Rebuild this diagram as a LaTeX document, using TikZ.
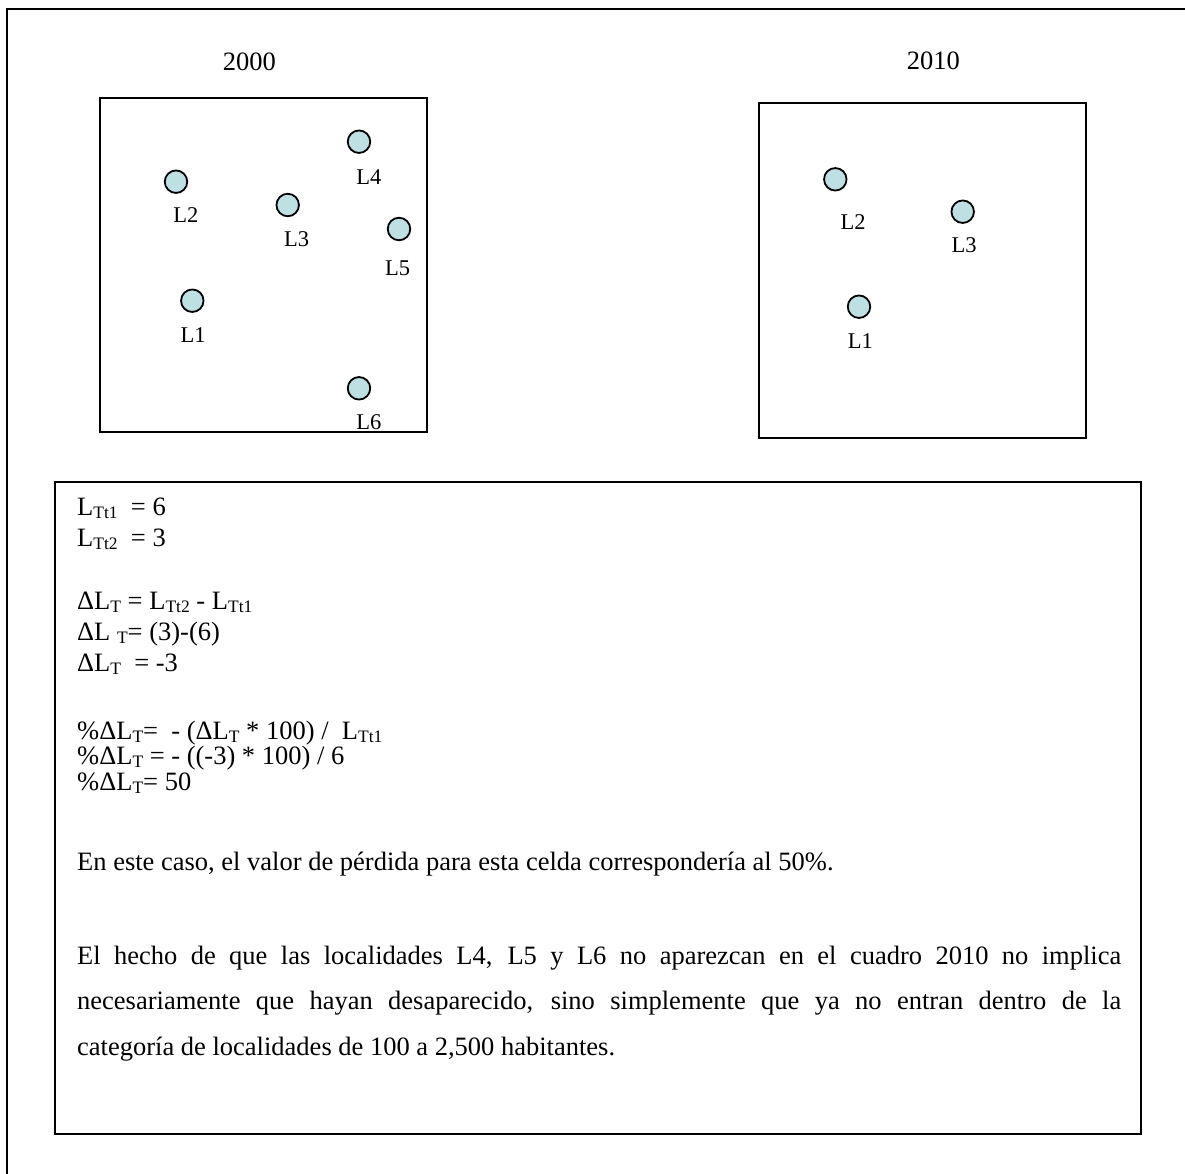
\documentclass[tikz,border=0pt]{standalone}
\usepackage{fontspec}
\setmainfont{Liberation Serif}
\definecolor{dotfill}{RGB}{190,224,226}
\newcommand\sbx[1]{\raisebox{-3pt}{\fontsize{17.5}{17.5}\selectfont #1}}
\tikzset{
  frame/.style={draw=black, line width=2pt},
  loc/.style={circle, draw=black, line width=1.8pt, fill=dotfill, minimum size=22.5pt, inner sep=0pt},
  lbl/.style={inner sep=0pt, font=\fontsize{22.5}{27}\selectfont},
  yr/.style={inner sep=0pt, font=\fontsize{26.5}{30}\selectfont},
  txt/.style={inner sep=0pt, anchor=base west, font=\fontsize{26.5}{31}\selectfont},
}
\begin{document}
\begin{tikzpicture}[x=1pt,y=-1pt]
\useasboundingbox (0,0) rectangle (1185,1173);
\fill[white] (0,0) rectangle (1185,1173);
% outer frame (runs off the right and bottom edges)
\draw[frame] (1186,9.3) -- (7.3,9.3) -- (7.3,1174);
% boxes
\draw[frame] (100,98) rectangle (427,432);
\draw[frame] (759.3,103.3) rectangle (1086,437.7);
\draw[frame] (55,482) rectangle (1141,1134);
% years
\node[yr] (y2000) at (249.3,61.7) {2000};
\node[yr] (y2010) at (933.3,60.8) {2010};
% 2000 cell
\node[loc] (a2) at (176,181.7) {};
\node[loc] (a3) at (287.7,205) {};
\node[loc] (a4) at (359,141.7) {};
\node[loc] (a5) at (399,229) {};
\node[loc] (a1) at (192.3,300.7) {};
\node[loc] (a6) at (359,388.3) {};
\node[lbl] (la2) at (185.8,215.5) {L2};
\node[lbl] (la3) at (296.7,239.2) {L3};
\node[lbl] (la4) at (368.8,176.7) {L4};
\node[lbl] (la5) at (397.5,268.3) {L5};
\node[lbl] (la1) at (193,335.5) {L1};
\node[lbl] (la6) at (368.8,422.5) {L6};
% 2010 cell
\node[loc] (b2) at (835.3,179.3) {};
\node[loc] (b3) at (962.7,211.7) {};
\node[loc] (b1) at (859,306.7) {};
\node[lbl] (lb2) at (853,222) {L2};
\node[lbl] (lb3) at (964.2,245.3) {L3};
\node[lbl] (lb1) at (860.3,341.3) {L1};
% formulas
\node[txt] (f1) at (77,515.7) {L\sbx{Tt1}\ \ = 6};
\node[txt] (f2) at (77,546.7) {L\sbx{Tt2}\ \ = 3};
\node[txt] (f3) at (77,609) {ΔL\sbx{T} = L\sbx{Tt2} - L\sbx{Tt1}};
\node[txt] (f4) at (77,640) {ΔL \sbx{T}= (3)-(6)};
\node[txt] (f5) at (77,671) {ΔL\sbx{T}\ \ = -3};
\node[txt] (f6) at (77,739) {\%ΔL\sbx{T}=\ \ - (ΔL\sbx{T} * 100) /\ \ L\sbx{Tt1}};
\node[txt] (f7) at (77,764.5) {\%ΔL\sbx{T} = - ((-3) * 100) / 6};
\node[txt] (f8) at (77,790) {\%ΔL\sbx{T}= 50};
% text
\node[txt] (p1) at (77,870) {En este caso, el valor de pérdida para esta celda correspondería al 50\%.};
\node[txt] (p2) at (77,964) {\parbox[t]{1044pt}{\fontsize{26.5}{45.5}\selectfont\parindent=0pt\tolerance=10000\hyphenpenalty=10000
El hecho de que las localidades L4, L5 y L6 no aparezcan en el cuadro 2010 no implica\linebreak
necesariamente que hayan desaparecido, sino simplemente que ya no entran dentro de la\linebreak
categoría de localidades de 100 a 2,500 habitantes.}};
\end{tikzpicture}
\end{document}
